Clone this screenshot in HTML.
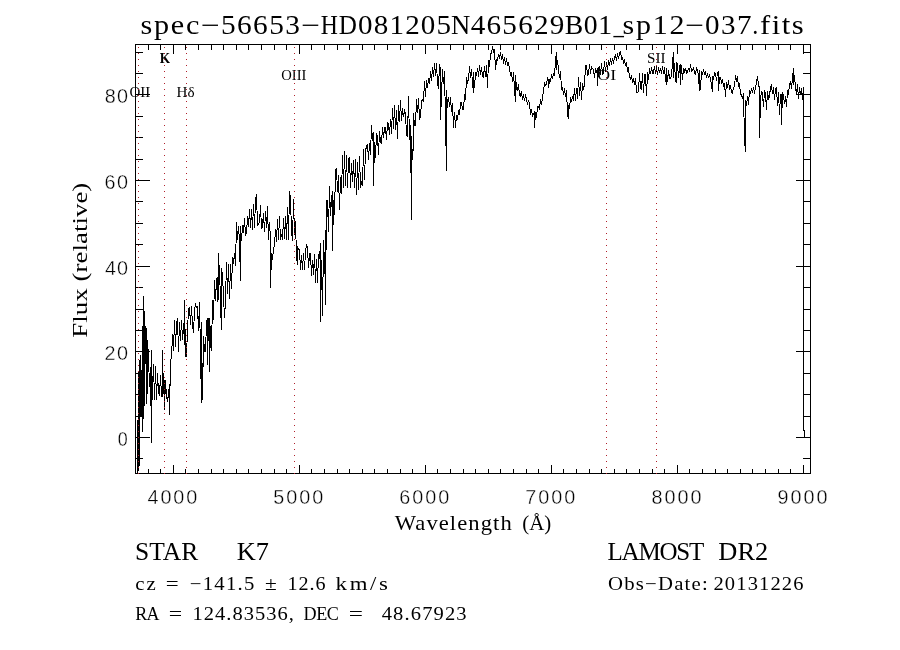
<!DOCTYPE html><html><head><meta charset="utf-8"><style>html,body{margin:0;padding:0;background:#fff;}svg{display:block;}.s{font-family:"Liberation Serif",serif;} .n{font-family:"Liberation Sans",sans-serif;stroke:#fff;stroke-width:0.35px;}</style></head><body>
<svg width="900" height="650" viewBox="0 0 900 650">
<rect width="900" height="650" fill="#fff"/>
<path d="M137.50 420.0L137.50 473.0L138.50 468.0L138.50 385.0L139.50 360.0L139.50 466.0L140.50 355.0L140.50 415.0L141.50 415.0L142.50 326.0L142.50 432.0L143.50 407.0L143.50 296.0L144.50 326.0L144.50 406.0L145.50 326.0L146.50 330.0L146.50 404.0L147.50 385.0L147.50 340.0L148.50 357.0L149.50 387.2L150.50 366.9L151.50 443.0L151.50 350.0L152.50 399.5L153.50 364.4L154.50 399.9L155.50 366.0L156.50 400.0L157.50 372.7L158.50 392.1L159.50 395.9L160.50 375.0L161.50 396.0L162.50 396.0L162.50 350.0L163.50 393.7L164.50 380.0L164.50 410.0L165.50 380.0L166.50 397.2L167.50 400.0L168.50 395.3L169.50 384.0L169.50 415.0L170.50 360.0L171.50 358.3L172.50 334.0L173.50 351.0L174.50 320.0L175.50 347.1L176.50 324.6L177.50 318.0L178.50 351.6L179.50 321.9L180.50 341.3L181.50 319.6L182.50 339.6L183.50 322.9L184.50 345.0L184.50 300.0L185.50 356.0L186.50 356.0L187.50 330.0L188.50 309.7L189.50 307.0L190.50 324.8L191.50 306.0L192.50 325.6L193.50 333.0L194.50 310.6L195.50 304.4L196.50 307.0L197.50 306.7L198.50 331.1L199.50 302.0L200.50 353.9L201.50 403.0L201.50 322.0L202.50 399.7L203.50 335.7L204.50 351.0L205.50 351.0L206.50 322.7L207.50 318.0L207.50 365.0L208.50 318.0L209.50 318.0L209.50 372.0L210.50 326.4L211.50 350.5L212.50 300.0L213.50 320.2L214.50 280.0L215.50 300.5L216.50 278.2L217.50 302.0L218.50 253.0L218.50 300.0L219.50 265.0L220.50 304.8L221.50 330.0L221.50 268.0L222.50 275.9L223.50 296.0L224.50 318.0L225.50 300.0L226.50 262.0L227.50 294.0L228.50 264.5L229.50 299.0L230.50 263.6L231.50 289.0L232.50 257.5L233.50 263.9L234.50 252.7L235.50 266.0L236.50 222.0L237.50 239.5L238.50 226.4L239.50 240.9L240.50 281.0L240.50 226.0L241.50 241.0L242.50 225.5L243.50 233.1L244.50 218.0L245.50 235.0L246.50 233.4L247.50 216.4L248.50 226.9L249.50 209.3L250.50 227.5L251.50 209.0L252.50 230.0L253.50 204.0L254.50 228.0L255.50 199.7L256.50 194.1L257.50 226.0L258.50 224.0L259.50 222.2L260.50 205.0L261.50 229.1L262.50 225.9L263.50 212.8L264.50 232.0L265.50 211.3L266.50 227.5L267.50 206.0L268.50 240.0L269.50 222.0L270.50 240.0L270.50 288.0L271.50 252.6L272.50 260.0L273.50 249.0L274.50 244.4L275.50 229.4L276.50 241.5L277.50 219.3L278.50 240.0L279.50 215.9L280.50 240.0L281.50 234.0L282.50 240.0L283.50 218.4L284.50 239.1L285.50 216.5L286.50 240.0L287.50 207.4L288.50 240.0L289.50 191.0L290.50 198.6L291.50 231.0L292.50 241.0L293.50 199.0L294.50 234.9L295.50 221.4L296.50 257.0L297.50 265.0L297.50 246.0L298.50 249.5L299.50 249.9L300.50 270.0L301.50 255.5L302.50 269.5L303.50 252.8L304.50 269.5L305.50 252.0L306.50 244.0L307.50 247.9L308.50 268.1L309.50 253.9L310.50 253.3L311.50 276.0L312.50 260.1L313.50 274.8L314.50 254.0L315.50 282.8L316.50 258.6L317.50 282.7L318.50 254.0L319.50 258.8L320.50 243.0L320.50 322.0L321.50 260.0L322.50 316.0L323.50 240.0L324.50 274.0L325.50 230.0L325.50 305.0L326.50 200.3L327.50 201.1L328.50 232.0L329.50 186.0L330.50 216.0L331.50 199.5L332.50 191.0L332.50 251.0L333.50 199.7L334.50 215.0L335.50 170.0L336.50 168.0L337.50 192.0L338.50 175.4L339.50 210.0L340.50 176.8L341.50 194.4L342.50 155.0L343.50 187.9L344.50 151.0L345.50 186.1L346.50 155.4L347.50 188.4L348.50 159.5L349.50 157.5L350.50 187.8L351.50 163.3L352.50 182.4L353.50 159.7L354.50 188.0L355.50 159.3L356.50 195.0L357.50 161.6L358.50 190.0L359.50 156.0L360.50 188.0L361.50 181.5L362.50 186.0L363.50 148.6L364.50 180.0L365.50 150.0L366.50 147.1L367.50 144.0L368.50 160.0L369.50 142.8L370.50 155.2L371.50 125.0L372.50 141.2L373.50 132.0L373.50 186.0L374.50 142.4L375.50 157.5L376.50 133.0L377.50 137.0L378.50 154.9L379.50 130.9L380.50 142.7L381.50 143.1L382.50 127.3L383.50 138.2L384.50 127.3L385.50 127.3L386.50 140.0L387.50 122.8L388.50 124.0L389.50 135.0L390.50 119.0L391.50 134.3L392.50 108.0L393.50 129.4L394.50 105.3L395.50 130.0L396.50 110.1L397.50 139.0L398.50 105.0L399.50 122.4L400.50 100.0L401.50 121.4L402.50 108.1L403.50 117.1L404.50 110.7L405.50 113.4L406.50 135.0L407.50 137.0L408.50 96.2L409.50 140.0L410.50 125.2L411.50 220.0L411.50 136.0L412.50 160.0L413.50 143.0L413.50 113.0L414.50 125.7L415.50 125.0L416.50 99.1L417.50 113.3L418.50 98.0L419.50 119.4L420.50 116.8L421.50 101.5L422.50 99.6L423.50 100.9L424.50 81.4L425.50 96.7L426.50 80.0L427.50 87.8L428.50 77.9L429.50 84.2L430.50 71.5L431.50 81.4L432.50 67.3L433.50 77.4L434.50 63.0L435.50 75.6L436.50 63.0L437.50 83.5L438.50 88.5L439.50 64.1L440.50 70.0L440.50 120.0L441.50 95.3L442.50 69.3L443.50 83.5L444.50 71.3L445.50 120.0L446.50 171.0L446.50 90.0L447.50 107.5L448.50 97.0L449.50 106.6L450.50 97.3L451.50 112.0L452.50 103.3L453.50 128.0L454.50 111.8L455.50 128.0L456.50 115.0L457.50 120.0L458.50 109.9L459.50 115.0L460.50 102.7L461.50 102.3L462.50 109.9L463.50 110.0L464.50 94.5L465.50 100.0L466.50 77.0L467.50 82.7L468.50 80.0L469.50 66.0L470.50 78.1L471.50 69.0L472.50 83.7L473.50 93.0L473.50 72.0L474.50 87.6L475.50 72.0L476.50 76.3L477.50 67.7L478.50 76.7L479.50 65.0L480.50 75.0L481.50 67.5L482.50 76.4L483.50 77.3L484.50 65.8L485.50 77.1L486.50 65.4L487.50 88.0L488.50 59.7L489.50 67.2L490.50 54.0L491.50 53.6L492.50 46.0L493.50 51.9L494.50 50.0L495.50 70.0L496.50 60.0L497.50 60.5L498.50 54.2L499.50 58.8L500.50 52.2L501.50 60.0L502.50 53.8L503.50 64.3L504.50 56.7L505.50 65.0L506.50 58.5L507.50 66.0L508.50 62.2L509.50 69.6L510.50 74.5L511.50 72.0L512.50 81.5L513.50 72.0L514.50 89.6L515.50 102.0L515.50 75.0L516.50 89.3L517.50 90.0L518.50 84.5L519.50 95.0L520.50 95.9L521.50 91.2L522.50 100.0L523.50 93.9L524.50 101.3L525.50 95.5L526.50 97.9L527.50 105.3L528.50 99.7L529.50 103.5L530.50 114.8L531.50 109.0L532.50 116.7L533.50 113.5L534.50 112.0L534.50 128.0L535.50 112.2L536.50 117.9L537.50 107.0L538.50 106.7L539.50 109.0L540.50 98.9L541.50 105.0L542.50 96.5L543.50 92.0L544.50 81.8L545.50 85.4L546.50 84.9L547.50 78.0L548.50 80.0L548.50 88.0L549.50 79.5L550.50 80.8L551.50 76.0L552.50 79.0L553.50 72.9L554.50 76.1L555.50 60.0L556.50 52.0L556.50 70.0L557.50 60.2L558.50 70.0L559.50 78.1L560.50 71.0L561.50 89.1L562.50 88.0L563.50 94.6L564.50 88.3L565.50 97.2L566.50 90.0L567.50 113.9L568.50 119.0L568.50 105.0L569.50 109.2L570.50 97.0L571.50 102.0L572.50 96.0L573.50 100.5L574.50 88.2L575.50 101.1L576.50 87.9L577.50 98.5L578.50 77.1L579.50 96.1L580.50 82.1L581.50 100.0L582.50 82.7L583.50 90.0L584.50 83.8L585.50 66.0L586.50 65.5L587.50 75.0L588.50 74.7L589.50 64.5L590.50 73.9L591.50 67.2L592.50 68.9L593.50 69.2L594.50 77.9L595.50 68.0L596.50 71.6L597.50 68.0L597.50 86.0L598.50 69.2L599.50 66.0L600.50 75.0L601.50 63.1L602.50 74.2L603.50 72.8L604.50 61.4L605.50 72.0L606.50 61.7L607.50 70.0L608.50 59.6L609.50 65.5L610.50 58.0L611.50 65.0L612.50 58.0L613.50 64.0L614.50 56.5L615.50 55.0L616.50 61.4L617.50 53.0L618.50 59.3L619.50 53.8L620.50 51.0L621.50 59.3L622.50 58.1L623.50 62.5L624.50 60.2L625.50 65.6L626.50 62.0L627.50 71.7L628.50 67.5L629.50 77.4L630.50 78.9L631.50 75.5L632.50 82.5L633.50 78.6L634.50 84.7L635.50 77.8L636.50 91.9L637.50 92.8L638.50 90.6L639.50 73.4L640.50 88.0L641.50 89.3L642.50 73.0L643.50 93.3L644.50 75.0L645.50 74.9L646.50 96.3L647.50 72.0L648.50 80.0L649.50 67.8L650.50 74.4L651.50 67.3L652.50 73.5L653.50 73.6L654.50 65.7L655.50 74.4L656.50 66.1L657.50 75.3L658.50 66.7L659.50 73.0L660.50 67.9L661.50 73.6L662.50 66.0L663.50 74.4L664.50 67.3L665.50 79.3L666.50 85.0L666.50 68.0L667.50 82.4L668.50 70.0L669.50 78.2L670.50 78.0L671.50 76.1L672.50 62.0L673.50 52.0L673.50 78.0L674.50 63.3L675.50 80.6L676.50 83.0L676.50 63.0L677.50 64.0L678.50 78.4L679.50 67.2L680.50 64.0L680.50 85.0L681.50 64.8L682.50 80.0L683.50 67.8L684.50 71.2L685.50 67.9L686.50 73.0L687.50 72.6L688.50 68.0L689.50 71.6L690.50 64.0L691.50 71.2L692.50 70.7L693.50 66.9L694.50 73.0L695.50 73.9L696.50 68.0L697.50 70.6L698.50 76.0L699.50 91.0L699.50 70.0L700.50 89.5L701.50 71.5L702.50 74.7L703.50 69.5L704.50 74.6L705.50 71.2L706.50 78.0L707.50 74.2L708.50 77.1L709.50 75.4L710.50 78.9L711.50 85.1L712.50 92.0L712.50 76.0L713.50 80.0L714.50 72.8L715.50 73.3L716.50 81.1L717.50 72.3L718.50 72.0L718.50 91.0L719.50 77.2L720.50 77.1L721.50 83.7L722.50 79.4L723.50 86.0L724.50 83.4L725.50 97.0L726.50 82.0L727.50 88.0L728.50 79.6L729.50 90.0L730.50 85.3L731.50 92.5L732.50 93.1L733.50 88.0L734.50 86.4L735.50 75.1L736.50 81.5L737.50 76.4L738.50 87.2L739.50 82.8L740.50 94.2L741.50 95.2L742.50 98.5L743.50 93.3L744.50 140.0L745.50 152.0L745.50 100.0L746.50 106.1L747.50 95.8L748.50 105.0L749.50 90.1L750.50 94.0L751.50 87.7L752.50 93.0L753.50 87.1L754.50 92.0L755.50 88.9L756.50 82.2L757.50 76.0L758.50 85.0L759.50 88.0L759.50 138.0L760.50 99.3L761.50 91.0L762.50 93.7L763.50 107.2L764.50 90.1L765.50 94.3L766.50 110.0L767.50 91.0L768.50 99.7L769.50 96.8L770.50 86.7L771.50 85.1L772.50 94.0L773.50 86.9L774.50 99.8L775.50 89.3L776.50 88.1L777.50 105.8L778.50 92.1L779.50 114.5L780.50 94.0L781.50 94.0L781.50 125.0L782.50 92.0L783.50 95.6L784.50 104.0L785.50 95.9L786.50 107.2L787.50 90.0L788.50 94.5L789.50 84.3L790.50 81.3L791.50 89.2L792.50 77.5L793.50 68.0L793.50 85.0L794.50 75.2L795.50 88.0L796.50 94.2L797.50 84.3L798.50 99.0L799.50 87.0L800.50 95.0L801.50 88.3L802.50 100.0L803.5 87L803.5 430L804.5 430L804.5 437" fill="none" stroke="#000" stroke-width="1" shape-rendering="crispEdges"/>
<path d="M135.5 44.5H810.5V473.5H135.5ZM148.5 473v-4M148.5 45v5M160.5 473v-4M160.5 45v5M173.5 473v-8M173.5 45v9M185.5 473v-4M185.5 45v5M198.5 473v-4M198.5 45v5M211.5 473v-4M211.5 45v5M223.5 473v-4M223.5 45v5M236.5 473v-4M236.5 45v5M248.5 473v-4M248.5 45v5M261.5 473v-4M261.5 45v5M274.5 473v-4M274.5 45v5M286.5 473v-4M286.5 45v5M299.5 473v-8M299.5 45v9M311.5 473v-4M311.5 45v5M324.5 473v-4M324.5 45v5M337.5 473v-4M337.5 45v5M349.5 473v-4M349.5 45v5M362.5 473v-4M362.5 45v5M374.5 473v-4M374.5 45v5M387.5 473v-4M387.5 45v5M400.5 473v-4M400.5 45v5M412.5 473v-4M412.5 45v5M425.5 473v-8M425.5 45v9M437.5 473v-4M437.5 45v5M450.5 473v-4M450.5 45v5M463.5 473v-4M463.5 45v5M475.5 473v-4M475.5 45v5M488.5 473v-4M488.5 45v5M500.5 473v-4M500.5 45v5M513.5 473v-4M513.5 45v5M526.5 473v-4M526.5 45v5M538.5 473v-4M538.5 45v5M551.5 473v-8M551.5 45v9M563.5 473v-4M563.5 45v5M576.5 473v-4M576.5 45v5M589.5 473v-4M589.5 45v5M601.5 473v-4M601.5 45v5M614.5 473v-4M614.5 45v5M626.5 473v-4M626.5 45v5M639.5 473v-4M639.5 45v5M652.5 473v-4M652.5 45v5M664.5 473v-4M664.5 45v5M677.5 473v-8M677.5 45v9M689.5 473v-4M689.5 45v5M702.5 473v-4M702.5 45v5M715.5 473v-4M715.5 45v5M727.5 473v-4M727.5 45v5M740.5 473v-4M740.5 45v5M752.5 473v-4M752.5 45v5M765.5 473v-4M765.5 45v5M778.5 473v-4M778.5 45v5M790.5 473v-4M790.5 45v5M803.5 473v-8M803.5 45v9M136 458.5h7M810 458.5h-7M136 437.5h14M810 437.5h-14M136 416.5h7M810 416.5h-7M136 394.5h7M810 394.5h-7M136 373.5h7M810 373.5h-7M136 351.5h14M810 351.5h-14M136 330.5h7M810 330.5h-7M136 309.5h7M810 309.5h-7M136 287.5h7M810 287.5h-7M136 266.5h14M810 266.5h-14M136 244.5h7M810 244.5h-7M136 223.5h7M810 223.5h-7M136 201.5h7M810 201.5h-7M136 180.5h14M810 180.5h-14M136 159.5h7M810 159.5h-7M136 137.5h7M810 137.5h-7M136 116.5h7M810 116.5h-7M136 94.5h14M810 94.5h-14M136 73.5h7M810 73.5h-7M136 52.5h7M810 52.5h-7" fill="none" stroke="#000" stroke-width="1" shape-rendering="crispEdges"/>
<text class="n" transform="translate(147.60 504) scale(1.0000 1)" font-size="19.8" letter-spacing="1.845">4000</text>
<text class="n" transform="translate(273.27 504) scale(1.0000 1)" font-size="19.8" letter-spacing="1.977">5000</text>
<text class="n" transform="translate(399.13 504) scale(1.0000 1)" font-size="19.8" letter-spacing="2.043">6000</text>
<text class="n" transform="translate(525.19 504) scale(1.0000 1)" font-size="19.8" letter-spacing="2.043">7000</text>
<text class="n" transform="translate(651.45 504) scale(1.0000 1)" font-size="19.8" letter-spacing="1.977">8000</text>
<text class="n" transform="translate(777.41 504) scale(1.0000 1)" font-size="19.8" letter-spacing="2.010">9000</text>
<text class="n" transform="translate(117.87 446) scale(0.9060 1)" font-size="19.8">0</text>
<text class="n" transform="translate(104.51 360) scale(1.0000 1)" font-size="19.8" letter-spacing="1.405">20</text>
<text class="n" transform="translate(105.10 275) scale(1.0000 1)" font-size="19.8" letter-spacing="0.811">40</text>
<text class="n" transform="translate(104.51 189) scale(1.0000 1)" font-size="19.8" letter-spacing="1.405">60</text>
<text class="n" transform="translate(104.71 103) scale(1.0000 1)" font-size="19.8" letter-spacing="1.207">80</text>
<text class="s" transform="translate(140.39 34) scale(1.1184 1)" font-size="27" letter-spacing="1.629">spec</text>
<text class="s" transform="translate(200.79 34) scale(1.2398 1)" font-size="27">−</text>
<text class="s" transform="translate(220.88 34) scale(1.0878 1)" font-size="27" letter-spacing="1.313">56653</text>
<text class="s" transform="translate(301.09 34) scale(1.2398 1)" font-size="27">−</text>
<text class="s" transform="translate(320.81 34) scale(0.8789 1)" font-size="27">H</text>
<text class="s" transform="translate(338.77 34) scale(0.9315 1)" font-size="27">D</text>
<text class="s" transform="translate(357.98 34) scale(1.0758 1)" font-size="27" letter-spacing="1.115">081205</text>
<text class="s" transform="translate(450.93 34) scale(0.9877 1)" font-size="27">N</text>
<text class="s" transform="translate(470.66 34) scale(1.0798 1)" font-size="27" letter-spacing="1.175">465629</text>
<text class="s" transform="translate(564.81 34) scale(1.0251 1)" font-size="27" letter-spacing="0.522">B01</text>
<text class="s" transform="translate(613.41 34) scale(0.7692 1)" font-size="27">_</text>
<text class="s" transform="translate(622.40 34) scale(1.1118 1)" font-size="27" letter-spacing="1.624">sp12</text>
<text class="s" transform="translate(684.99 34) scale(1.2398 1)" font-size="27">−</text>
<text class="s" transform="translate(704.98 34) scale(1.0761 1)" font-size="27" letter-spacing="1.375">037</text>
<text class="s" transform="translate(752.13 34) scale(0.8951 1)" font-size="27">.</text>
<text class="s" transform="translate(760.08 34) scale(1.1371 1)" font-size="27" letter-spacing="1.318">fits</text>
<text class="s" transform="translate(394.70 530) scale(1.0500 1)" font-size="21.5" letter-spacing="1.036">Wavelength</text>
<text class="s" transform="translate(522.16 530) scale(0.9766 1)" font-size="21.5">(Å)</text>
<text class="s" transform="translate(87 337.67) rotate(-90) scale(1.2260 1)" font-size="22">Flux (relative)</text>
<text class="s" transform="translate(129.40 96.6) scale(1.0384 1)" font-size="14.5">OII</text>
<text class="s" transform="translate(159.67 62.7) scale(0.9195 1)" font-size="14.5" font-weight="bold">K</text>
<text class="s" transform="translate(176.62 96.7) scale(1.0436 1)" font-size="14.5">Hδ</text>
<text class="s" transform="translate(281.32 79.7) scale(1.0073 1)" font-size="14.5">OIII</text>
<text class="s" transform="translate(597.29 80) scale(1.2315 1)" font-size="14.5">OI</text>
<text class="s" transform="translate(647.02 63) scale(1.0421 1)" font-size="14.5">SII</text>
<text class="s" transform="translate(135.04 560) scale(1.0203 1)" font-size="25">STAR</text>
<text class="s" transform="translate(236.84 560) scale(1.0530 1)" font-size="25">K7</text>
<text class="s" transform="translate(135.27 590) scale(1.1285 1)" font-size="18.5" letter-spacing="1.748">cz</text>
<text class="s" transform="translate(165.77 590) scale(1.2404 1)" font-size="18.5">=</text>
<text class="s" transform="translate(189.77 590) scale(1.1216 1)" font-size="18.5" letter-spacing="1.097">−141.5</text>
<text class="s" transform="translate(265.04 590) scale(1.1616 1)" font-size="18.5">±</text>
<text class="s" transform="translate(287.49 590) scale(1.0900 1)" font-size="18.5" letter-spacing="0.835">12.6</text>
<text class="s" transform="translate(335.56 590) scale(1.2317 1)" font-size="18.5" letter-spacing="2.198">km/s</text>
<text class="s" transform="translate(135.25 620) scale(0.9707 1)" font-size="18.5" letter-spacing="-0.756">RA</text>
<text class="s" transform="translate(168.63 620) scale(1.2859 1)" font-size="18.5">=</text>
<text class="s" transform="translate(192.55 620) scale(1.1100 1)" font-size="18.5" letter-spacing="0.887">124.83536,</text>
<text class="s" transform="translate(303.55 620) scale(0.9774 1)" font-size="18.5" letter-spacing="-0.412">DEC</text>
<text class="s" transform="translate(348.86 620) scale(1.3656 1)" font-size="18.5">=</text>
<text class="s" transform="translate(381.69 620) scale(1.1136 1)" font-size="18.5" letter-spacing="0.997">48.67923</text>
<text class="s" transform="translate(607.58 560) scale(1.0000 1)" font-size="25" letter-spacing="-1.230">LAMOST</text>
<text class="s" transform="translate(718.34 560) scale(1.0564 1)" font-size="25">DR2</text>
<text class="s" transform="translate(608.07 590) scale(1.1224 1)" font-size="18.5" letter-spacing="1.066">Obs−Date:</text>
<text class="s" transform="translate(713.48 590) scale(1.1092 1)" font-size="18.5" letter-spacing="1.024">20131226</text>
<path d="M138 47h1v1h-1zM138 53h1v1h-1zM138 59h1v1h-1zM138 65h1v1h-1zM138 71h1v1h-1zM138 77h1v1h-1zM138 83h1v1h-1zM138 89h1v1h-1zM138 95h1v1h-1zM138 101h1v1h-1zM138 107h1v1h-1zM138 113h1v1h-1zM138 119h1v1h-1zM138 125h1v1h-1zM138 131h1v1h-1zM138 137h1v1h-1zM138 143h1v1h-1zM138 149h1v1h-1zM138 155h1v1h-1zM138 161h1v1h-1zM138 167h1v1h-1zM138 173h1v1h-1zM138 179h1v1h-1zM138 185h1v1h-1zM138 191h1v1h-1zM138 197h1v1h-1zM138 203h1v1h-1zM138 209h1v1h-1zM138 215h1v1h-1zM138 221h1v1h-1zM138 227h1v1h-1zM138 233h1v1h-1zM138 239h1v1h-1zM138 245h1v1h-1zM138 251h1v1h-1zM138 257h1v1h-1zM138 263h1v1h-1zM138 269h1v1h-1zM138 275h1v1h-1zM138 281h1v1h-1zM138 287h1v1h-1zM138 293h1v1h-1zM138 299h1v1h-1zM138 305h1v1h-1zM138 311h1v1h-1zM138 317h1v1h-1zM138 323h1v1h-1zM138 329h1v1h-1zM138 335h1v1h-1zM138 341h1v1h-1zM138 347h1v1h-1zM138 353h1v1h-1zM138 359h1v1h-1zM138 365h1v1h-1zM138 371h1v1h-1zM138 377h1v1h-1zM138 383h1v1h-1zM138 389h1v1h-1zM138 395h1v1h-1zM138 401h1v1h-1zM138 407h1v1h-1zM138 413h1v1h-1zM138 419h1v1h-1zM138 425h1v1h-1zM138 431h1v1h-1zM138 437h1v1h-1zM138 443h1v1h-1zM138 449h1v1h-1zM138 455h1v1h-1zM138 461h1v1h-1zM138 467h1v1h-1zM138 473h1v1h-1zM164 47h1v1h-1zM164 53h1v1h-1zM164 59h1v1h-1zM164 65h1v1h-1zM164 71h1v1h-1zM164 77h1v1h-1zM164 83h1v1h-1zM164 89h1v1h-1zM164 95h1v1h-1zM164 101h1v1h-1zM164 107h1v1h-1zM164 113h1v1h-1zM164 119h1v1h-1zM164 125h1v1h-1zM164 131h1v1h-1zM164 137h1v1h-1zM164 143h1v1h-1zM164 149h1v1h-1zM164 155h1v1h-1zM164 161h1v1h-1zM164 167h1v1h-1zM164 173h1v1h-1zM164 179h1v1h-1zM164 185h1v1h-1zM164 191h1v1h-1zM164 197h1v1h-1zM164 203h1v1h-1zM164 209h1v1h-1zM164 215h1v1h-1zM164 221h1v1h-1zM164 227h1v1h-1zM164 233h1v1h-1zM164 239h1v1h-1zM164 245h1v1h-1zM164 251h1v1h-1zM164 257h1v1h-1zM164 263h1v1h-1zM164 269h1v1h-1zM164 275h1v1h-1zM164 281h1v1h-1zM164 287h1v1h-1zM164 293h1v1h-1zM164 299h1v1h-1zM164 305h1v1h-1zM164 311h1v1h-1zM164 317h1v1h-1zM164 323h1v1h-1zM164 329h1v1h-1zM164 335h1v1h-1zM164 341h1v1h-1zM164 347h1v1h-1zM164 353h1v1h-1zM164 359h1v1h-1zM164 365h1v1h-1zM164 371h1v1h-1zM164 377h1v1h-1zM164 383h1v1h-1zM164 389h1v1h-1zM164 395h1v1h-1zM164 401h1v1h-1zM164 407h1v1h-1zM164 413h1v1h-1zM164 419h1v1h-1zM164 425h1v1h-1zM164 431h1v1h-1zM164 437h1v1h-1zM164 443h1v1h-1zM164 449h1v1h-1zM164 455h1v1h-1zM164 461h1v1h-1zM164 467h1v1h-1zM164 473h1v1h-1zM186 47h1v1h-1zM186 53h1v1h-1zM186 59h1v1h-1zM186 65h1v1h-1zM186 71h1v1h-1zM186 77h1v1h-1zM186 83h1v1h-1zM186 89h1v1h-1zM186 95h1v1h-1zM186 101h1v1h-1zM186 107h1v1h-1zM186 113h1v1h-1zM186 119h1v1h-1zM186 125h1v1h-1zM186 131h1v1h-1zM186 137h1v1h-1zM186 143h1v1h-1zM186 149h1v1h-1zM186 155h1v1h-1zM186 161h1v1h-1zM186 167h1v1h-1zM186 173h1v1h-1zM186 179h1v1h-1zM186 185h1v1h-1zM186 191h1v1h-1zM186 197h1v1h-1zM186 203h1v1h-1zM186 209h1v1h-1zM186 215h1v1h-1zM186 221h1v1h-1zM186 227h1v1h-1zM186 233h1v1h-1zM186 239h1v1h-1zM186 245h1v1h-1zM186 251h1v1h-1zM186 257h1v1h-1zM186 263h1v1h-1zM186 269h1v1h-1zM186 275h1v1h-1zM186 281h1v1h-1zM186 287h1v1h-1zM186 293h1v1h-1zM186 299h1v1h-1zM186 305h1v1h-1zM186 311h1v1h-1zM186 317h1v1h-1zM186 323h1v1h-1zM186 329h1v1h-1zM186 335h1v1h-1zM186 341h1v1h-1zM186 347h1v1h-1zM186 353h1v1h-1zM186 359h1v1h-1zM186 365h1v1h-1zM186 371h1v1h-1zM186 377h1v1h-1zM186 383h1v1h-1zM186 389h1v1h-1zM186 395h1v1h-1zM186 401h1v1h-1zM186 407h1v1h-1zM186 413h1v1h-1zM186 419h1v1h-1zM186 425h1v1h-1zM186 431h1v1h-1zM186 437h1v1h-1zM186 443h1v1h-1zM186 449h1v1h-1zM186 455h1v1h-1zM186 461h1v1h-1zM186 467h1v1h-1zM186 473h1v1h-1zM294 47h1v1h-1zM294 53h1v1h-1zM294 59h1v1h-1zM294 65h1v1h-1zM294 71h1v1h-1zM294 77h1v1h-1zM294 83h1v1h-1zM294 89h1v1h-1zM294 95h1v1h-1zM294 101h1v1h-1zM294 107h1v1h-1zM294 113h1v1h-1zM294 119h1v1h-1zM294 125h1v1h-1zM294 131h1v1h-1zM294 137h1v1h-1zM294 143h1v1h-1zM294 149h1v1h-1zM294 155h1v1h-1zM294 161h1v1h-1zM294 167h1v1h-1zM294 173h1v1h-1zM294 179h1v1h-1zM294 185h1v1h-1zM294 191h1v1h-1zM294 197h1v1h-1zM294 203h1v1h-1zM294 209h1v1h-1zM294 215h1v1h-1zM294 221h1v1h-1zM294 227h1v1h-1zM294 233h1v1h-1zM294 239h1v1h-1zM294 245h1v1h-1zM294 251h1v1h-1zM294 257h1v1h-1zM294 263h1v1h-1zM294 269h1v1h-1zM294 275h1v1h-1zM294 281h1v1h-1zM294 287h1v1h-1zM294 293h1v1h-1zM294 299h1v1h-1zM294 305h1v1h-1zM294 311h1v1h-1zM294 317h1v1h-1zM294 323h1v1h-1zM294 329h1v1h-1zM294 335h1v1h-1zM294 341h1v1h-1zM294 347h1v1h-1zM294 353h1v1h-1zM294 359h1v1h-1zM294 365h1v1h-1zM294 371h1v1h-1zM294 377h1v1h-1zM294 383h1v1h-1zM294 389h1v1h-1zM294 395h1v1h-1zM294 401h1v1h-1zM294 407h1v1h-1zM294 413h1v1h-1zM294 419h1v1h-1zM294 425h1v1h-1zM294 431h1v1h-1zM294 437h1v1h-1zM294 443h1v1h-1zM294 449h1v1h-1zM294 455h1v1h-1zM294 461h1v1h-1zM294 467h1v1h-1zM294 473h1v1h-1zM606 47h1v1h-1zM606 53h1v1h-1zM606 59h1v1h-1zM606 65h1v1h-1zM606 71h1v1h-1zM606 77h1v1h-1zM606 83h1v1h-1zM606 89h1v1h-1zM606 95h1v1h-1zM606 101h1v1h-1zM606 107h1v1h-1zM606 113h1v1h-1zM606 119h1v1h-1zM606 125h1v1h-1zM606 131h1v1h-1zM606 137h1v1h-1zM606 143h1v1h-1zM606 149h1v1h-1zM606 155h1v1h-1zM606 161h1v1h-1zM606 167h1v1h-1zM606 173h1v1h-1zM606 179h1v1h-1zM606 185h1v1h-1zM606 191h1v1h-1zM606 197h1v1h-1zM606 203h1v1h-1zM606 209h1v1h-1zM606 215h1v1h-1zM606 221h1v1h-1zM606 227h1v1h-1zM606 233h1v1h-1zM606 239h1v1h-1zM606 245h1v1h-1zM606 251h1v1h-1zM606 257h1v1h-1zM606 263h1v1h-1zM606 269h1v1h-1zM606 275h1v1h-1zM606 281h1v1h-1zM606 287h1v1h-1zM606 293h1v1h-1zM606 299h1v1h-1zM606 305h1v1h-1zM606 311h1v1h-1zM606 317h1v1h-1zM606 323h1v1h-1zM606 329h1v1h-1zM606 335h1v1h-1zM606 341h1v1h-1zM606 347h1v1h-1zM606 353h1v1h-1zM606 359h1v1h-1zM606 365h1v1h-1zM606 371h1v1h-1zM606 377h1v1h-1zM606 383h1v1h-1zM606 389h1v1h-1zM606 395h1v1h-1zM606 401h1v1h-1zM606 407h1v1h-1zM606 413h1v1h-1zM606 419h1v1h-1zM606 425h1v1h-1zM606 431h1v1h-1zM606 437h1v1h-1zM606 443h1v1h-1zM606 449h1v1h-1zM606 455h1v1h-1zM606 461h1v1h-1zM606 467h1v1h-1zM606 473h1v1h-1zM656 47h1v1h-1zM656 53h1v1h-1zM656 59h1v1h-1zM656 65h1v1h-1zM656 71h1v1h-1zM656 77h1v1h-1zM656 83h1v1h-1zM656 89h1v1h-1zM656 95h1v1h-1zM656 101h1v1h-1zM656 107h1v1h-1zM656 113h1v1h-1zM656 119h1v1h-1zM656 125h1v1h-1zM656 131h1v1h-1zM656 137h1v1h-1zM656 143h1v1h-1zM656 149h1v1h-1zM656 155h1v1h-1zM656 161h1v1h-1zM656 167h1v1h-1zM656 173h1v1h-1zM656 179h1v1h-1zM656 185h1v1h-1zM656 191h1v1h-1zM656 197h1v1h-1zM656 203h1v1h-1zM656 209h1v1h-1zM656 215h1v1h-1zM656 221h1v1h-1zM656 227h1v1h-1zM656 233h1v1h-1zM656 239h1v1h-1zM656 245h1v1h-1zM656 251h1v1h-1zM656 257h1v1h-1zM656 263h1v1h-1zM656 269h1v1h-1zM656 275h1v1h-1zM656 281h1v1h-1zM656 287h1v1h-1zM656 293h1v1h-1zM656 299h1v1h-1zM656 305h1v1h-1zM656 311h1v1h-1zM656 317h1v1h-1zM656 323h1v1h-1zM656 329h1v1h-1zM656 335h1v1h-1zM656 341h1v1h-1zM656 347h1v1h-1zM656 353h1v1h-1zM656 359h1v1h-1zM656 365h1v1h-1zM656 371h1v1h-1zM656 377h1v1h-1zM656 383h1v1h-1zM656 389h1v1h-1zM656 395h1v1h-1zM656 401h1v1h-1zM656 407h1v1h-1zM656 413h1v1h-1zM656 419h1v1h-1zM656 425h1v1h-1zM656 431h1v1h-1zM656 437h1v1h-1zM656 443h1v1h-1zM656 449h1v1h-1zM656 455h1v1h-1zM656 461h1v1h-1zM656 467h1v1h-1zM656 473h1v1h-1z" fill="#b0202a"/>
</svg></body></html>
